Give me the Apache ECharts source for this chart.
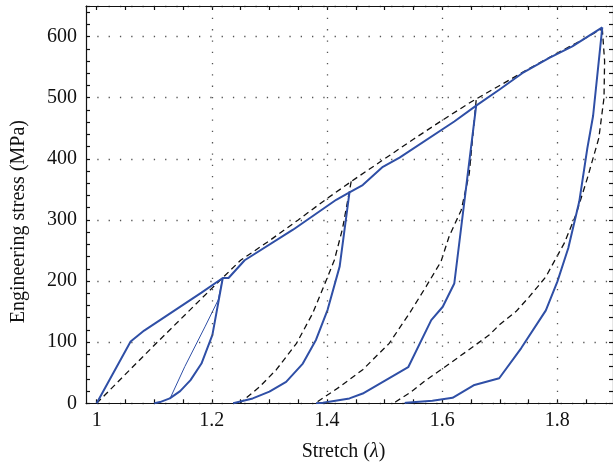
<!DOCTYPE html>
<html>
<head>
<meta charset="utf-8">
<script src="https://cdn.jsdelivr.net/npm/echarts@6/dist/echarts.min.js"></script>
<style>
  html, body { margin: 0; padding: 0; background: #fff; }
  #main { width: 613px; height: 468px; }
</style>
</head>
<body>
<div id="main"></div>
<script>
// measured curves, [stretch, stress MPa]
var loadExp = [[1, 0], [1.059, 101], [1.0825, 119], [1.182, 181], [1.219, 205], [1.229, 205],
  [1.257, 234], [1.341, 284], [1.416, 333], [1.439, 345], [1.462, 357], [1.497, 387],
  [1.526, 402], [1.621, 461], [1.659, 487], [1.699, 513], [1.739, 540], [1.786, 565],
  [1.826, 584], [1.878, 615]];
var unload1 = [[1.219, 205], [1.201, 112], [1.182, 65], [1.163, 38], [1.145, 20], [1.127, 8], [1.11, 2], [1.1, 0]];
var unload1Thin = [[1.219, 205], [1.211, 169], [1.188, 125], [1.153, 60], [1.129, 11], [1.127, 8]];
var unload2 = [[1.439, 345], [1.422, 224], [1.401, 153], [1.381, 104], [1.358, 65], [1.329, 35],
  [1.300, 19], [1.271, 8], [1.237, 0]];
var unload3 = [[1.659, 487], [1.621, 196], [1.601, 158], [1.581, 136], [1.541, 59], [1.462, 16],
  [1.439, 8], [1.393, 1], [1.381, 0]];
var unload4 = [[1.878, 615], [1.862, 470], [1.852, 417], [1.838, 330], [1.819, 254], [1.8, 199],
  [1.78, 152], [1.737, 90], [1.699, 41], [1.656, 30], [1.618, 9], [1.583, 4], [1.537, 1], [1.535, 0]];

// model curves (dashed)
var loadModel = [[1, 0], [1.1, 95], [1.2, 188], [1.25, 234], [1.3, 266], [1.35, 300], [1.4, 335],
  [1.45, 368], [1.5, 400], [1.55, 432], [1.6, 463], [1.65, 493], [1.7, 520], [1.75, 547],
  [1.8, 573], [1.85, 598], [1.878, 613]];
var model2 = [[1.442, 363], [1.427, 286], [1.413, 235], [1.399, 202], [1.375, 147], [1.347, 98],
  [1.312, 55], [1.283, 27], [1.251, 2], [1.25, 0]];
var model3 = [[1.659, 496], [1.647, 376], [1.633, 316], [1.612, 273], [1.598, 232], [1.572, 191],
  [1.543, 147], [1.508, 98], [1.462, 55], [1.422, 27], [1.384, 3], [1.382, 0]];
var model4 = [[1.878, 613], [1.882, 560], [1.881, 500], [1.872, 434], [1.852, 368], [1.832, 308],
  [1.812, 262], [1.78, 207], [1.751, 174], [1.728, 150], [1.699, 128], [1.682, 112], [1.644, 86],
  [1.601, 57], [1.572, 38], [1.545, 18], [1.52, 3], [1.516, 0]];

var xTicks = [1, 1.05, 1.1, 1.15, 1.2, 1.25, 1.3, 1.35, 1.4, 1.45, 1.5, 1.55, 1.6, 1.65, 1.7, 1.75, 1.8, 1.85];
var xLabels = [1, 1.2, 1.4, 1.6, 1.8];
var xGrid = [1.2, 1.4, 1.6, 1.8];

var blue = '#2f4fa6';
var font = 'Liberation Serif';
var xMin = 0.9815, xMax = 1.8966;

var chart = echarts.init(document.getElementById('main'));

function xAx(pos, labels) {
  return {
    type: 'value', position: pos, min: xMin, max: xMax,
    axisLine: { show: true, onZero: false, lineStyle: { color: '#111', width: 1.2 } },
    axisTick: { show: true, inside: true, length: 4, customValues: xTicks, lineStyle: { color: '#111', width: 1.2 } },
    axisLabel: labels ? {
      show: true, customValues: xLabels, margin: 7, fontFamily: font, fontSize: 20, color: '#111',
      formatter: function (v) { return String(+v.toFixed(2)); }
    } : { show: false },
    splitLine: { show: false }
  };
}
function yAx(pos, labels) {
  return {
    type: 'value', position: pos, min: 0, max: 650, interval: 100,
    axisLine: { show: true, onZero: false, lineStyle: { color: '#111', width: 1.2 } },
    axisTick: { show: true, inside: true, length: 4, lineStyle: { color: '#111', width: 1.2 } },
    minorTick: { show: true, splitNumber: 5, length: 4, lineStyle: { color: '#111', width: 1.2 } },
    axisLabel: labels ? { show: true, showMaxLabel: false, margin: 9, fontFamily: font, fontSize: 20, color: '#111' } : { show: false },
    splitLine: labels ? { show: true, lineStyle: { color: '#555', width: 1.3, type: [1.3, 10] } } : { show: false }
  };
}

function solid(data, w) {
  return { type: 'line', data: data, showSymbol: false, z: 3,
    lineStyle: { color: blue, width: w || 2 } };
}
function dashed(data) {
  return { type: 'line', data: data, showSymbol: false, z: 2,
    lineStyle: { color: '#111', width: 1.3, type: [6, 4] } };
}

var xAxis = [xAx('bottom', true), xAx('top', false)];
xAxis[0].name = 'Stretch ({i|λ})';
xAxis[0].nameLocation = 'middle';
xAxis[0].nameGap = 38;
xAxis[0].nameTextStyle = { fontFamily: font, fontSize: 20, color: '#111', padding: [0, 12, 0, 0],
  rich: { i: { fontFamily: font, fontStyle: 'italic', fontSize: 20, color: '#111' } } };

var yAxis = [yAx('left', true), yAx('right', false)];
yAxis[0].name = 'Engineering stress (MPa)';
yAxis[0].nameLocation = 'middle';
yAxis[0].nameGap = 57;
yAxis[0].nameTextStyle = { fontFamily: font, fontSize: 20, color: '#111', padding: [0, 34, 0, 0] };

chart.setOption({
  animation: false,
  grid: { left: 86, top: 6, width: 528, height: 397.3, containLabel: false },
  xAxis: xAxis,
  yAxis: yAxis,
  series: [
    { type: 'line', data: [], z: 1, silent: true,
      markLine: { silent: true, symbol: 'none', label: { show: false },
        lineStyle: { color: '#555', width: 1.3, type: [1.3, 10] },
        data: xGrid.map(function (v) { return { xAxis: v }; }) } },
    dashed(loadModel), dashed(model2), dashed(model3), dashed(model4),
    solid(loadExp), solid(unload1), solid(unload1Thin, 1), solid(unload2), solid(unload3), solid(unload4)
  ]
});
</script>
</body>
</html>
